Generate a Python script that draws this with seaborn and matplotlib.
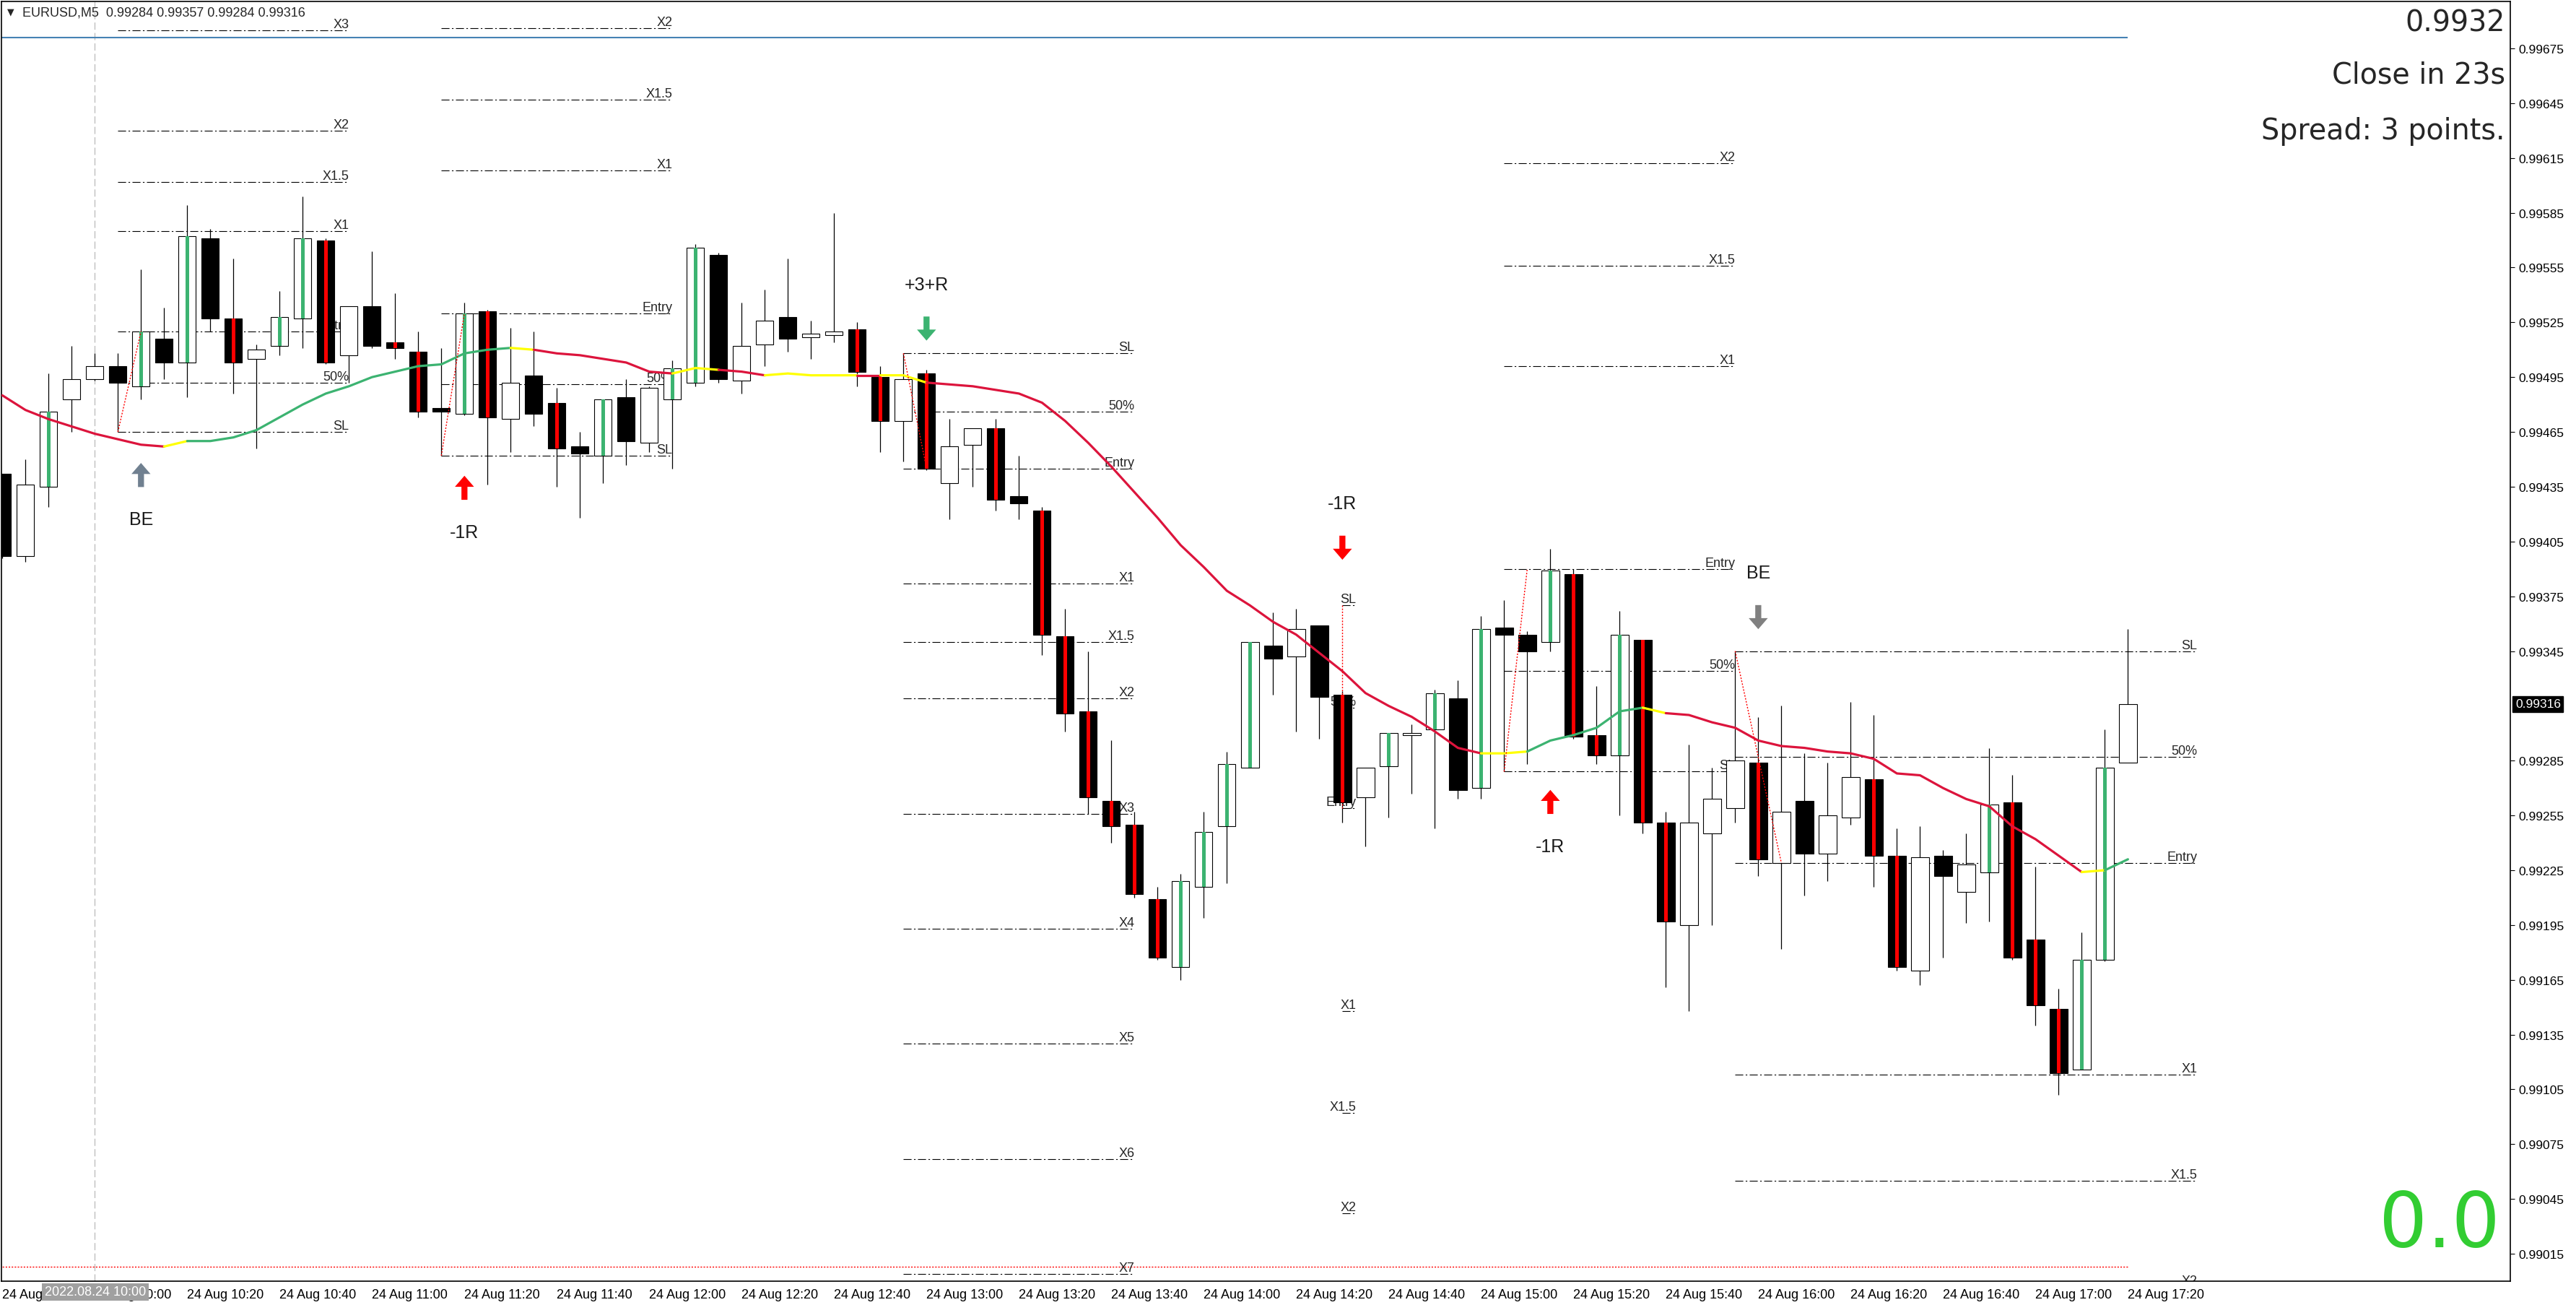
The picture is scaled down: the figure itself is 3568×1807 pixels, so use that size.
import numpy as np
import pandas as pd
import matplotlib
matplotlib.use("Agg")
import matplotlib.pyplot as plt
import seaborn as sns

# ── EURUSD M5, 24 Aug 2022, bars 09:40 .. 17:20 ─────────────
opens = [
    0.99442, 0.99397, 0.99435, 0.99483, 0.99494, 0.99501, 0.99490, 0.99516, 0.99503, 0.99571,
    0.99527, 0.99505, 0.99512, 0.99527, 0.99570, 0.99507, 0.99534, 0.99514, 0.99509, 0.99478,
    0.99475, 0.99531, 0.99472, 0.99496, 0.99481, 0.99457, 0.99452, 0.99484, 0.99459, 0.99483,
    0.99492, 0.99562, 0.99493, 0.99513, 0.99528, 0.99517, 0.99518, 0.99521, 0.99495, 0.99471,
    0.99497, 0.99437, 0.99458, 0.99467, 0.99430, 0.99422, 0.99353, 0.99312, 0.99263, 0.99250,
    0.99209, 0.99172, 0.99216, 0.99249, 0.99281, 0.99348, 0.99342, 0.99359, 0.99321, 0.99265,
    0.99282, 0.99299, 0.99302, 0.99319, 0.99270, 0.99358, 0.99354, 0.99350, 0.99387, 0.99299,
    0.99288, 0.99351, 0.99251, 0.99195, 0.99245, 0.99259, 0.99284, 0.99229, 0.99263, 0.99234,
    0.99254, 0.99275, 0.99233, 0.99170, 0.99233, 0.99213, 0.99224, 0.99262, 0.99187, 0.99149,
    0.99116, 0.99176, 0.99284]
highs = [
    0.99442, 0.99450, 0.99497, 0.99512, 0.99508, 0.99508, 0.99554, 0.99533, 0.99589, 0.99576,
    0.99560, 0.99513, 0.99542, 0.99594, 0.99571, 0.99534, 0.99564, 0.99541, 0.99520, 0.99511,
    0.99536, 0.99532, 0.99522, 0.99520, 0.99489, 0.99465, 0.99483, 0.99494, 0.99490, 0.99504,
    0.99568, 0.99563, 0.99536, 0.99543, 0.99560, 0.99526, 0.99585, 0.99525, 0.99501, 0.99508,
    0.99499, 0.99472, 0.99467, 0.99472, 0.99452, 0.99424, 0.99368, 0.99345, 0.99296, 0.99257,
    0.99216, 0.99223, 0.99257, 0.99290, 0.99350, 0.99366, 0.99368, 0.99359, 0.99323, 0.99281,
    0.99300, 0.99305, 0.99324, 0.99329, 0.99364, 0.99373, 0.99356, 0.99401, 0.99390, 0.99326,
    0.99367, 0.99351, 0.99257, 0.99294, 0.99281, 0.99345, 0.99309, 0.99315, 0.99289, 0.99284,
    0.99317, 0.99310, 0.99248, 0.99249, 0.99236, 0.99245, 0.99292, 0.99277, 0.99227, 0.99160,
    0.99191, 0.99302, 0.99357]
lows = [
    0.99396, 0.99394, 0.99424, 0.99465, 0.99493, 0.99465, 0.99483, 0.99494, 0.99484, 0.99520,
    0.99486, 0.99456, 0.99507, 0.99511, 0.99502, 0.99492, 0.99511, 0.99505, 0.99473, 0.99452,
    0.99474, 0.99436, 0.99454, 0.99468, 0.99435, 0.99418, 0.99437, 0.99447, 0.99454, 0.99445,
    0.99490, 0.99492, 0.99486, 0.99501, 0.99509, 0.99505, 0.99514, 0.99490, 0.99454, 0.99449,
    0.99444, 0.99417, 0.99435, 0.99422, 0.99417, 0.99343, 0.99301, 0.99256, 0.99240, 0.99210,
    0.99176, 0.99165, 0.99199, 0.99218, 0.99281, 0.99321, 0.99301, 0.99297, 0.99251, 0.99238,
    0.99254, 0.99267, 0.99248, 0.99264, 0.99264, 0.99279, 0.99283, 0.99345, 0.99297, 0.99283,
    0.99255, 0.99245, 0.99161, 0.99148, 0.99195, 0.99251, 0.99222, 0.99182, 0.99211, 0.99219,
    0.99250, 0.99216, 0.99170, 0.99162, 0.99177, 0.99196, 0.99197, 0.99176, 0.99140, 0.99102,
    0.99116, 0.99175, 0.99284]
closes = [
    0.99397, 0.99436, 0.99476, 0.99494, 0.99501, 0.99492, 0.99520, 0.99503, 0.99572, 0.99527,
    0.99503, 0.99510, 0.99528, 0.99571, 0.99503, 0.99534, 0.99512, 0.99511, 0.99476, 0.99476,
    0.99530, 0.99473, 0.99492, 0.99475, 0.99456, 0.99453, 0.99483, 0.99460, 0.99489, 0.99500,
    0.99566, 0.99494, 0.99512, 0.99526, 0.99516, 0.99519, 0.99520, 0.99498, 0.99471, 0.99494,
    0.99445, 0.99457, 0.99467, 0.99428, 0.99426, 0.99354, 0.99311, 0.99265, 0.99249, 0.99212,
    0.99177, 0.99219, 0.99246, 0.99283, 0.99350, 0.99341, 0.99357, 0.99320, 0.99262, 0.99281,
    0.99300, 0.99300, 0.99322, 0.99269, 0.99357, 0.99354, 0.99345, 0.99389, 0.99298, 0.99288,
    0.99354, 0.99251, 0.99197, 0.99251, 0.99264, 0.99285, 0.99231, 0.99257, 0.99234, 0.99255,
    0.99276, 0.99233, 0.99172, 0.99232, 0.99222, 0.99228, 0.99261, 0.99177, 0.99151, 0.99114,
    0.99176, 0.99281, 0.99316]
# 1 = candle marked with a coloured centre stripe
stripe = [
    0, 0, 1, 0, 0, 0, 1, 0, 1, 0,
    1, 0, 1, 1, 1, 0, 0, 1, 1, 0,
    1, 1, 0, 0, 1, 0, 1, 0, 0, 1,
    1, 0, 0, 0, 0, 0, 0, 1, 1, 0,
    1, 0, 0, 1, 0, 1, 1, 1, 1, 1,
    1, 1, 1, 1, 1, 0, 0, 0, 1, 0,
    1, 0, 1, 0, 1, 0, 0, 1, 1, 1,
    1, 1, 1, 0, 0, 0, 1, 0, 0, 0,
    0, 1, 1, 0, 0, 0, 1, 1, 1, 1,
    1, 1, 0]

# moving average and its colour state per segment (r falling, g rising, y flat)
ma_vals = [
    0.99485, 0.99477, 0.99472, 0.99468, 0.99464, 0.99461, 0.99458, 0.99457, 0.99460, 0.99460,
    0.99462, 0.99466, 0.99473, 0.99480, 0.99486, 0.99490, 0.99495, 0.99498, 0.99501, 0.99502,
    0.99508, 0.99510, 0.99511, 0.99510, 0.99508, 0.99507, 0.99505, 0.99503, 0.99498, 0.99497,
    0.99500, 0.99499, 0.99498, 0.99496, 0.99497, 0.99496, 0.99496, 0.99496, 0.99496, 0.99496,
    0.99492, 0.99491, 0.99490, 0.99488, 0.99486, 0.99481, 0.99471, 0.99459, 0.99446, 0.99432,
    0.99418, 0.99403, 0.99391, 0.99378, 0.99370, 0.99361, 0.99354, 0.99344, 0.99334, 0.99322,
    0.99315, 0.99309, 0.99301, 0.99292, 0.99289, 0.99289, 0.99290, 0.99296, 0.99299, 0.99303,
    0.99312, 0.99314, 0.99311, 0.99310, 0.99306, 0.99303, 0.99296, 0.99293, 0.99292, 0.99290,
    0.99289, 0.99286, 0.99278, 0.99277, 0.99270, 0.99264, 0.99260, 0.99249, 0.99242, 0.99233,
    0.99224, 0.99225, 0.99231]
ma_state = ("rrrrrrry" "ggggggggggggggy" "rrrrrryyrryyyyryy"
            "rrrrrrrrrrrrrrrrrrrrrrrryyggggg" "yrrrrrrrrrrrrrrrrrrygg")[:92]

# trade boxes: start bar, end bar, bar where the red link reaches entry
trade_start = [5, 19, 39, 58, 65, 75]
trade_end = [15, 29, 49, 58.6, 75, 95]
trade_link = [6, 20, 40, 58, 66, 77]
trade_labels = [
    ["SL", "50%", "Entry", "X1", "X1.5", "X2", "X3"],
    ["SL", "50%", "Entry", "X1", "X1.5", "X2"],
    ["SL", "50%", "Entry", "X1", "X1.5", "X2", "X3", "X4", "X5", "X6", "X7"],
    ["SL", "50%", "Entry", "X1", "X1.5", "X2"],
    ["SL", "50%", "Entry", "X1", "X1.5", "X2"],
    ["SL", "50%", "Entry", "X1", "X1.5", "X2"],
]
trade_prices = [
    [0.99465, 0.99492, 0.99520, 0.99575, 0.99602, 0.99630, 0.99685],
    [0.99452, 0.99491, 0.99530, 0.99608, 0.99647, 0.99686],
    [0.99508, 0.99476, 0.99445, 0.99382, 0.99350, 0.99319, 0.99256, 0.99193, 0.99130, 0.99067, 0.99004],
    [0.99370, 0.99314, 0.99259, 0.99148, 0.99092, 0.99037],
    [0.99279, 0.99334, 0.99390, 0.99501, 0.99556, 0.99612],
    [0.99345, 0.99287, 0.99229, 0.99113, 0.99055, 0.98997],
]

# result arrows
event_bar = [6, 20, 40, 58, 67, 76]
event_dir = ["up", "up", "down", "down", "up", "down"]
event_tip = [0.99448, 0.99441, 0.99515, 0.99395, 0.99269, 0.99357]
event_text = ["BE", "-1R", "+3+R", "-1R", "-1R", "BE"]
event_color = ["#708090", "#FF0000", "#3CB371", "#FF0000", "#FF0000", "#808080"]

time_ticks = [0, 4, 8, 12, 16, 20, 24, 28, 32, 36, 40, 44, 48, 52, 56, 60, 64, 68, 72, 76, 80, 84, 88, 92]
time_labels = ["24 Aug 09:40", "24 Aug 10:00", "24 Aug 10:20", "24 Aug 10:40", "24 Aug 11:00",
               "24 Aug 11:20", "24 Aug 11:40", "24 Aug 12:00", "24 Aug 12:20", "24 Aug 12:40",
               "24 Aug 13:00", "24 Aug 13:20", "24 Aug 13:40", "24 Aug 14:00", "24 Aug 14:20",
               "24 Aug 14:40", "24 Aug 15:00", "24 Aug 15:20", "24 Aug 15:40", "24 Aug 16:00",
               "24 Aug 16:20", "24 Aug 16:40", "24 Aug 17:00", "24 Aug 17:20"]
price_ticks = [0.99675, 0.99645, 0.99615, 0.99585, 0.99555, 0.99525, 0.99495, 0.99465, 0.99435,
               0.99405, 0.99375, 0.99345, 0.99285, 0.99255, 0.99225, 0.99195, 0.99165, 0.99135,
               0.99105, 0.99075, 0.99045, 0.99015]
last_price = 0.99316
ask_level = 0.99681
low_dotted = 0.99008
session_bar = 4

# ── figure ─────────────────────────────────────────────────
sns.set_style("white")
plt.rcParams["font.family"] = ["Liberation Sans", "DejaVu Sans"]

W, H = 3568, 1808
fig = plt.figure(figsize=(W / 100, H / 100), dpi=100)
ax = fig.add_axes([2 / W, 1 - 1775 / H, 3475 / W, 1772 / H])

x = np.arange(len(opens))
o, h, l, c = map(np.array, (opens, highs, lows, closes))
bull = c >= o
lo = np.minimum(o, c)
body = np.maximum(np.abs(c - o), 0.000005)
st = np.array(stripe, bool)

# background lines
ax.axvline(session_bar, color="#B4B4B4", lw=0.8, ls=(0, (9, 4)), zorder=1)
ax.hlines(ask_level, -1, x[-1], color="#4682B4", lw=1.5, zorder=1)
ax.hlines(low_dotted, -1, x[-1], color="red", lw=1.0, ls=(0, (1.5, 1.5)), zorder=1)

# trade levels
for s, e, lk, labs, prs in zip(trade_start, trade_end, trade_link, trade_labels, trade_prices):
    ax.hlines(prs, s, e, colors="black", lw=0.8, linestyles=[(0, (10, 3, 2, 3))], zorder=2)
    for lab, p in zip(labs, prs):
        ax.text(e, p, lab, ha="right", va="bottom", fontsize=13, zorder=2.5, clip_on=True)
    ax.plot([s, lk], [prs[0], prs[2]], color="red", lw=1.0, ls=(0, (1.5, 1.5)), zorder=7)

# candles
ax.vlines(x, l, h, color="black", lw=0.9, zorder=3)
ax.bar(x[bull], body[bull], bottom=lo[bull], width=0.76, color="white",
       edgecolor="black", linewidth=0.8, zorder=4)
ax.bar(x[~bull], body[~bull], bottom=lo[~bull], width=0.76, color="black",
       edgecolor="black", linewidth=0.8, zorder=4)
ax.bar(x[st & bull], body[st & bull], bottom=lo[st & bull], width=0.16,
       color="#3CB371", linewidth=0, zorder=5)
ax.bar(x[st & ~bull], body[st & ~bull], bottom=lo[st & ~bull], width=0.17,
       color="#FF0000", linewidth=0, zorder=5)

# moving average, one run per colour
ma_colors = {"r": "#DC143C", "g": "#3CB371", "y": "#FFFF00"}
start = 0
for i in range(1, len(ma_state) + 1):
    if i == len(ma_state) or ma_state[i] != ma_state[start]:
        seg = pd.DataFrame({"bar": x[start:i + 1], "ma": ma_vals[start:i + 1]})
        sns.lineplot(data=seg, x="bar", y="ma", color=ma_colors[ma_state[start]],
                     lw=2.3, estimator=None, sort=False, ax=ax, zorder=6)
        start = i

# result arrows + labels
for b, d, p, t, col in zip(event_bar, event_dir, event_tip, event_text, event_color):
    sgn = -1 if d == "up" else 1
    ax.annotate("", xy=(b, p), xytext=(0, 24 * sgn), textcoords="offset points",
                arrowprops=dict(width=6, headwidth=19, headlength=11, shrink=0,
                                fc=col, ec=col, lw=0), zorder=8)
    ax.annotate(t, xy=(b, p), xytext=(0, 56 * sgn), textcoords="offset points",
                ha="center", va="center", fontsize=18, color="#1A1A1A", zorder=8)

# axes
ax.set_xlim(-0.04, 108.55)
ax.set_ylim(0.99000, 0.997007)
ax.set_xlabel("")
ax.set_ylabel("")
ax.yaxis.tick_right()
ax.set_yticks(price_ticks)
ax.set_yticklabels([f"{v:.5f}" for v in price_ticks])
ax.set_xticks(time_ticks)
ax.set_xticklabels(time_labels, ha="left")
ax.tick_params(axis="both", direction="out", length=4, width=0.8, colors="black", labelsize=12.5)
ax.tick_params(axis="y", pad=4)
ax.tick_params(axis="x", pad=3, labelsize=13)
for sp in ax.spines.values():
    sp.set_visible(True)
    sp.set_color("black")
    sp.set_linewidth(1.2)

ax.annotate(f"{last_price:.5f}", xy=(1.0, last_price), xycoords=("axes fraction", "data"),
            xytext=(5, 0), textcoords="offset points", ha="left", va="center",
            fontsize=12.5, color="white",
            bbox=dict(boxstyle="square,pad=0.2", fc="black", ec="black"))

# header and info texts
fig.text(10 / W, 1 - 17 / H, "\u25BC", fontsize=9, va="center", family=["DejaVu Sans"])
fig.text(31 / W, 1 - 18 / H, "EURUSD,M5  0.99284 0.99357 0.99284 0.99316", fontsize=13, va="center")
fig.text(3470 / W, 1 - 43 / H, "0.9932", ha="right", va="baseline", fontsize=28.5, family=["DejaVu Sans"])
fig.text(3470 / W, 1 - 115 / H, "Close in 23s", ha="right", va="baseline", fontsize=28.5, family=["DejaVu Sans"])
fig.text(3470 / W, 1 - 193 / H, "Spread: 3 points.", ha="right", va="baseline", fontsize=28.5, family=["DejaVu Sans"])
fig.text(3463 / W, 1 - 1727 / H, "0.0", ha="right", va="baseline", fontsize=76,
         color="#32CD32", family=["DejaVu Sans"])
fig.text(132 / W, 1 - 1790 / H, "2022.08.24 10:00", ha="center", va="center", fontsize=13,
         color="white", bbox=dict(boxstyle="square,pad=0.2", fc="#A0A0A0", ec="none"))

fig.savefig("out.png", dpi=100)
